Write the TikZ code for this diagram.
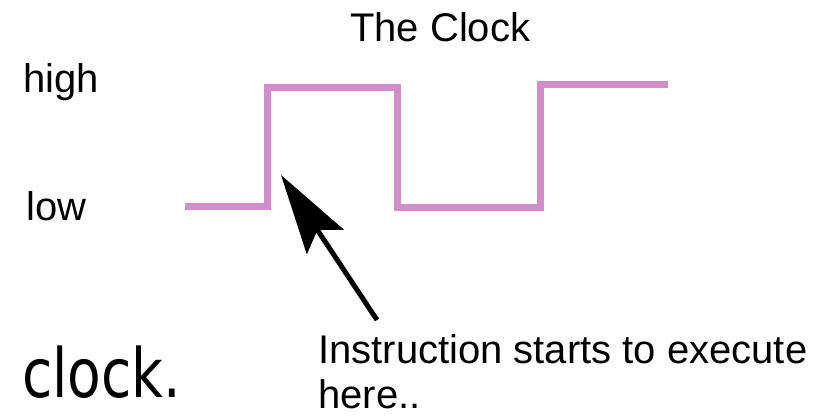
\documentclass[tikz,border=0pt]{standalone}
\usepackage{fontspec}
\setmainfont{Liberation Sans}
\newfontfamily\bigfont{DejaVu Sans}
\usetikzlibrary{arrows.meta}
\definecolor{clk}{RGB}{210,142,203}
\begin{document}
\begin{tikzpicture}[x=1pt,y=-1pt,
  lbl/.style={inner sep=0pt,anchor=base west,font=\fontsize{40}{48}\selectfont},
  wave/.style={draw=clk,line width=7pt,line join=miter},
  pointer/.style={draw=black,line width=5pt,-{Stealth[length=80pt,width=44pt,inset=14pt]}}]
\useasboundingbox (0,0) rectangle (838,415);
\node[lbl] (title) at (350,41) {The Clock};
\node[lbl] (high) at (23,92) {high};
\node[lbl] (low) at (26,220) {low};
\node[lbl] (instr) at (318,363) {Instruction starts to execute};
\node[lbl] (here) at (318,408) {here..};
\node[inner sep=0pt,anchor=base west,font=\bigfont\fontsize{68}{72}\selectfont,xscale=0.81] (clockw) at (22,397) {clock.};
\draw[wave] (185,206) -- (267,206) -- (267,87) -- (397,87) -- (397,207) -- (540,207) -- (540,84) -- (668,84);
\coordinate (tail) at (377,320);
\coordinate (tip) at (281,175);
\draw[pointer] (tail) -- (tip);
\end{tikzpicture}
\end{document}
